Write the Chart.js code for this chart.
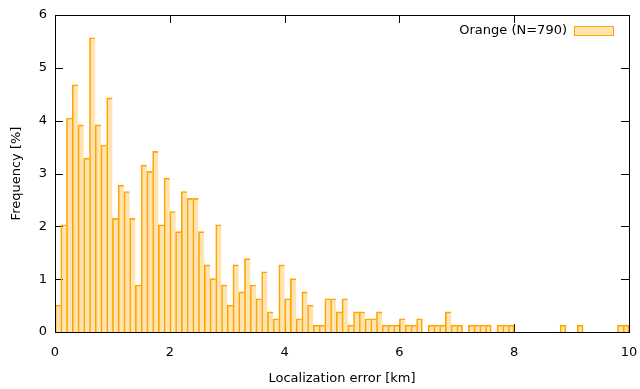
<!DOCTYPE html>
<html>
<head>
<meta charset="utf-8">
<script src="https://cdn.jsdelivr.net/npm/chart.js@4/dist/chart.umd.min.js"></script>
<style>
  html, body { margin: 0; padding: 0; background: #fff; }
  #wrap { width: 640px; height: 389px; position: relative; }
</style>
</head>
<body>
<div id="wrap"><canvas id="c" width="640" height="389"></canvas></div>
<script>
// ---- data ----
const seriesLabel = 'Orange (N=790)';
const binWidth = 0.1; // km
// Frequency [%] per 0.1 km bin, from 0.0 to 10.0 km
const frequency = [
  0.51, 2.03, 4.05, 4.68, 3.92, 3.29, 5.57, 3.92, 3.54, 4.43,
  2.15, 2.78, 2.66, 2.15, 0.89, 3.16, 3.04, 3.42, 2.03, 2.91,
  2.28, 1.90, 2.66, 2.53, 2.53, 1.90, 1.27, 1.01, 2.03, 0.89,
  0.51, 1.27, 0.76, 1.39, 0.89, 0.63, 1.14, 0.38, 0.25, 1.27,
  0.63, 1.01, 0.25, 0.76, 0.51, 0.13, 0.13, 0.63, 0.63, 0.38,
  0.63, 0.13, 0.38, 0.38, 0.25, 0.25, 0.38, 0.13, 0.13, 0.13,
  0.25, 0.13, 0.13, 0.25, 0.00, 0.13, 0.13, 0.13, 0.38, 0.13,
  0.13, 0.00, 0.13, 0.13, 0.13, 0.13, 0.00, 0.13, 0.13, 0.13,
  0.00, 0.00, 0.00, 0.00, 0.00, 0.00, 0.00, 0.00, 0.13, 0.00,
  0.00, 0.13, 0.00, 0.00, 0.00, 0.00, 0.00, 0.00, 0.13, 0.13
];
const xTickValues = [0, 2, 4, 6, 8, 10];
const yTickValues = [0, 1, 2, 3, 4, 5, 6];
const xTitle = 'Localization error [km]';
const yTitle = 'Frequency [%]';

// ---- styles ----
const FONT = 'DejaVu Sans';
const fillColor = 'rgba(255,165,0,0.3)';
const edgeColor = '#FFA500';

const points = frequency.map((v, i) => ({ x: (i + 0.5) * binWidth, y: v > 0 ? v : null }));

const frame = {
  id: 'frame',
  beforeDatasetsDraw(chart) {
    const { ctx, chartArea: a, scales: { x, y } } = chart;
    ctx.save();
    ctx.strokeStyle = '#000';
    ctx.lineWidth = 1;
    ctx.beginPath();
    xTickValues.forEach(v => {
      const px = Math.round(x.getPixelForValue(v)) + 0.5;
      if (v !== 0 && v !== 10) {
        ctx.moveTo(px, a.bottom); ctx.lineTo(px, a.bottom - 8);
        ctx.moveTo(px, a.top); ctx.lineTo(px, a.top + 8);
      }
    });
    yTickValues.forEach(v => {
      const py = Math.round(y.getPixelForValue(v)) + 0.5;
      if (v !== 0 && v !== 6) {
        ctx.moveTo(a.left, py); ctx.lineTo(a.left + 8, py);
        ctx.moveTo(a.right, py); ctx.lineTo(a.right - 8, py);
      }
    });
    ctx.stroke();
    ctx.restore();
  },
  afterDatasetsDraw(chart) {
    const { ctx, chartArea: a } = chart;
    ctx.save();
    ctx.strokeStyle = '#000';
    ctx.lineWidth = 1;
    ctx.strokeRect(a.left + 0.5, a.top + 0.5, a.right - a.left, a.bottom - a.top);
    // legend
    ctx.font = '13px "' + FONT + '"';
    ctx.fillStyle = '#000';
    ctx.textAlign = 'right';
    ctx.textBaseline = 'middle';
    ctx.fillText(chart.data.datasets[0].label, 567, 31);
    ctx.fillStyle = fillColor;
    ctx.fillRect(574.5, 26.5, 39, 9);
    ctx.strokeStyle = edgeColor;
    ctx.strokeRect(574.5, 26.5, 39, 9);
    ctx.restore();
  }
};

new Chart(document.getElementById('c'), {
  type: 'bar',
  data: {
    datasets: [{
      label: seriesLabel,
      data: points,
      backgroundColor: fillColor,
      borderColor: edgeColor,
      borderWidth: (c) => {
        const i = c.dataIndex;
        const next = frequency[i + 1];
        return { left: 1, top: 1, right: (next === undefined || next <= 0) ? 1 : 0, bottom: 0 };
      },
      borderSkipped: false,
      barPercentage: 1,
      categoryPercentage: 1,
      grouped: false
    }]
  },
  options: {
    responsive: false,
    animation: false,
    devicePixelRatio: 1,
    layout: { padding: { top: 15, right: 11, left: 0, bottom: 0 } },
    plugins: { legend: { display: false }, tooltip: { enabled: false } },
    scales: {
      x: {
        type: 'linear',
        min: 0, max: 10,
        offset: false,
        grid: { display: false, drawTicks: false },
        border: { display: false },
        afterFit(s) { s.height = 57; s.paddingLeft = 0; s.paddingRight = 0; },
        afterBuildTicks(s) { s.ticks = xTickValues.map(v => ({ value: v })); },
        ticks: { font: { family: FONT, size: 13 }, color: '#000', padding: 13, maxRotation: 0 },
        title: { display: true, text: xTitle, font: { family: FONT, size: 13 }, color: '#000', padding: { top: 0, bottom: 3 } }
      },
      y: {
        min: 0, max: 6,
        grid: { display: false, drawTicks: false },
        border: { display: false },
        afterFit(s) { s.width = 55; s.paddingTop = 0; s.paddingBottom = 0; },
        afterBuildTicks(s) { s.ticks = yTickValues.map(v => ({ value: v })); },
        ticks: { font: { family: FONT, size: 13 }, color: '#000', padding: 8 },
        title: { display: true, text: yTitle, font: { family: FONT, size: 13 }, color: '#000', padding: { top: 9, bottom: 0 } }
      }
    }
  },
  plugins: [frame]
});
</script>
</body>
</html>
